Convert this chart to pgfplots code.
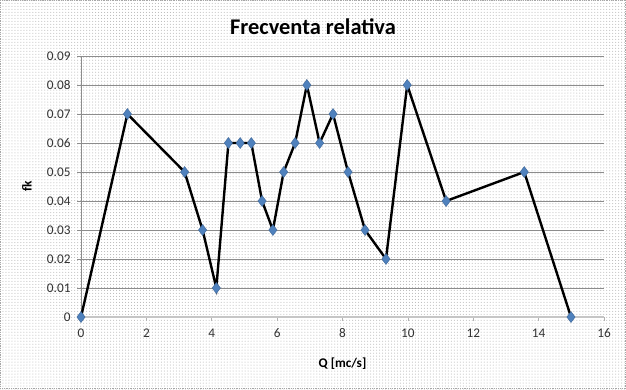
\documentclass[border=0pt]{standalone}
\usepackage{pgfplots}
\pgfplotsset{compat=1.18}
\usepackage{fontspec}
\setmainfont{Carlito}
\usetikzlibrary{patterns}
\definecolor{mblue}{HTML}{4F81BD}
\definecolor{gridc}{HTML}{8C8C8C}
\begin{document}
\begin{tikzpicture}[x=1bp,y=1bp]
\fill[white] (-81,-72) rectangle (545,317);
\fill[pattern=dots, pattern color=gray!60] (-81,-72) rectangle (545,317);
\draw[gray!70, densely dotted, line width=0.8bp] (-80.6,-71.6) rectangle (544.6,316.6);
\node[font=\fontsize{22.5}{26}\selectfont\bfseries] at (232,290) {Frecventa relativa};
\begin{axis}[
  at={(0,0)}, anchor=south west,
  scale only axis, width=523bp, height=261bp,
  xmin=0, xmax=16, ymin=0, ymax=0.09,
  xtick={0,2,4,6,8,10,12,14,16},
  ytick={0,0.01,0.02,0.03,0.04,0.05,0.06,0.07,0.08,0.09},
  yticklabels={0,0.01,0.02,0.03,0.04,0.05,0.06,0.07,0.08,0.09},
  scaled y ticks=false,
  /pgf/number format/assume math mode=true,
  axis x line*=bottom, axis y line*=left,
  x axis line style={gray!45, line width=1.6bp, -},
  y axis line style={gridc, line width=0.6bp, -},
  tick align=outside, major tick length=4bp,
  x tick style={gray!60, line width=0.6bp},
  y tick style={gridc, line width=0.6bp},
  ymajorgrids, grid style={gridc, line width=0.7bp},
  tick label style={font=\fontsize{13.3}{16}\selectfont, text=black!80},
  xticklabel style={yshift=-4bp},
  yticklabel style={xshift=-3bp},
  xlabel={Q [mc/s]}, ylabel={fk},
  label style={font=\fontsize{13.3}{16}\selectfont\bfseries},
  xlabel style={at={(axis description cs:0.5,-0.18)}, anchor=center},
  ylabel style={at={(axis description cs:-0.1033,0.5)}, anchor=center},
  clip=false,
]
\addplot[black, line width=2.4bp, mark=diamond*, mark size=5.5bp,
  mark options={fill=mblue, draw=mblue!80!black, line width=0.4bp}]
coordinates {
(0,0) (1.42,0.07) (3.17,0.05) (3.72,0.03) (4.14,0.01) (4.51,0.06)
(4.87,0.06) (5.21,0.06) (5.54,0.04) (5.87,0.03) (6.20,0.05) (6.55,0.06)
(6.91,0.08) (7.30,0.06) (7.71,0.07) (8.17,0.05) (8.69,0.03) (9.33,0.02)
(9.98,0.08) (11.17,0.04) (13.56,0.05) (14.99,0)
};
\end{axis}
\end{tikzpicture}
\end{document}
